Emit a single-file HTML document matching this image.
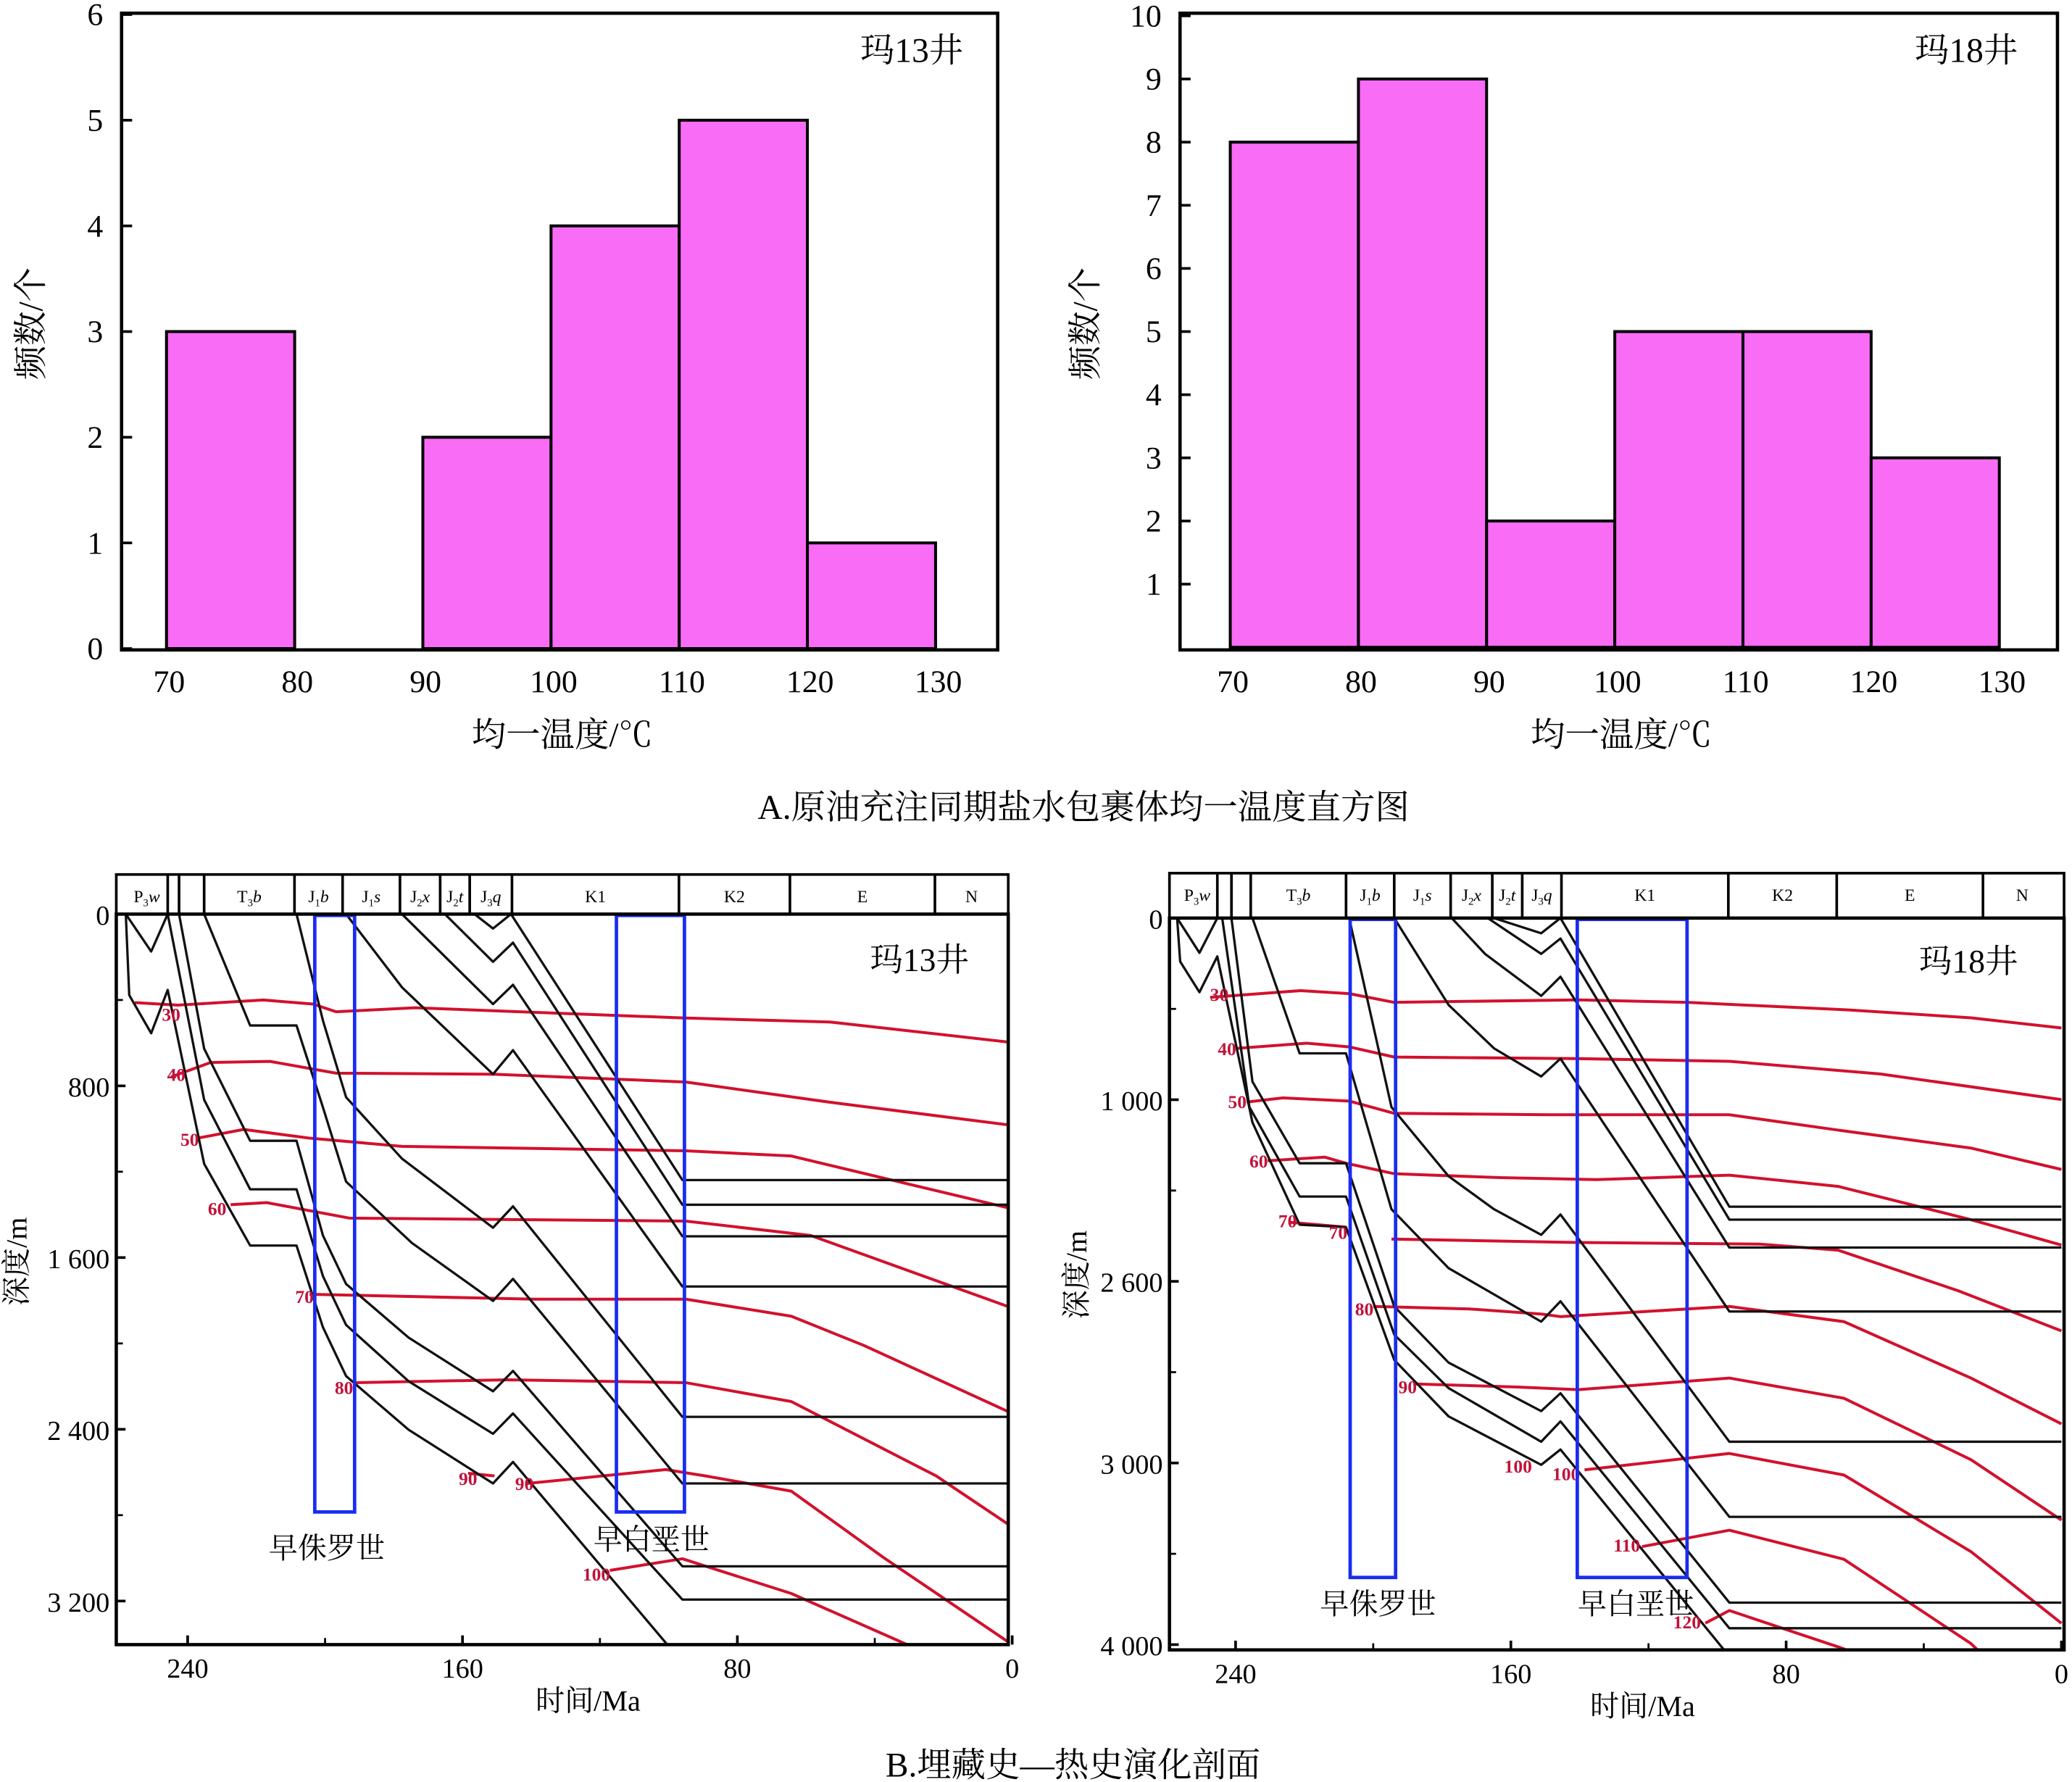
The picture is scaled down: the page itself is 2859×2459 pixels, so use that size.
<!DOCTYPE html>
<html><head><meta charset="utf-8"><style>
html,body{margin:0;padding:0;background:#fff;}
svg{display:block;}
text{font-family:"Liberation Serif","Noto Serif CJK SC",serif;fill:#000;}
</style></head><body>
<svg id="fig" xmlns="http://www.w3.org/2000/svg" width="2859" height="2459" viewBox="0 0 1568 1349" preserveAspectRatio="none">
<defs>
<clipPath id="clipL"><rect x="88" y="692" width="675" height="553"/></clipPath>
<clipPath id="clipR"><rect x="885" y="695" width="677" height="554"/></clipPath>
</defs>
<text x="820" y="620" font-size="26" text-anchor="middle">A.原油充注同期盐水包裹体均一温度直方图</text>
<text x="812" y="1345" font-size="26" text-anchor="middle">B.埋藏史—热史演化剖面</text>
</svg>
<script>
// ===== Histogram data =====
const histBins = [70, 80, 90, 100, 110, 120];
const histLeftCounts = [3, 0, 2, 4, 5, 1];
const histRightCounts = [8, 9, 2, 5, 5, 3];
const histXTicks = [70, 80, 90, 100, 110, 120, 130];
const histLeftYTicks = [0, 1, 2, 3, 4, 5, 6];
const histRightYTicks = [1, 2, 3, 4, 5, 6, 7, 8, 9, 10];

// ===== Burial chart: left (玛13井) =====
const burLXTicks = [240, 160, 80, 0];
const burLYTicks = [0, 800, 1600, 2400, 3200];
const burLYTickLabels = ["0", "800", "1 600", "2 400", "3 200"];
const burLHeaderBounds = [258, 245.8, 242.5, 235.2, 208.9, 194.9, 178.2, 166.5, 157.9, 145.6, 97, 64.7, 22.5, 0];
const burLBlack = [
 [[258,0],[250.6,174],[245.8,0]],
 [[156.5,0],[151.1,67],[145.9,0],[96,1239],[0,1239]],
 [[165.1,0],[151.1,222],[145.3,133],[96,1354],[0,1354]],
 [[177.6,0],[151.1,419],[145.3,329],[96,1501],[0,1501]],
 [[193.9,0],[177.6,341],[151.1,746],[145.3,634],[96,1735],[0,1735]],
 [[208.3,0],[200.6,496],[193.9,853],[177.6,1139],[151.1,1461],[145.3,1361],[96,2342],[0,2342]],
 [[235.2,0],[221.8,519],[208.3,519],[200.6,900],[193.9,1246],[174.7,1532],[151.1,1802],[145.3,1699],[96,2652],[0,2652]],
 [[242.5,0],[235.2,627],[221.8,1056],[208.3,1056],[200.6,1497],[193.9,1723],[175.7,1973],[151.1,2223],[145.3,2128],[96,3038],[0,3038]],
 [[245.8,0],[235.2,865],[221.8,1282],[208.3,1282],[200.6,1687],[193.9,1914],[175.7,2176],[151.1,2421],[145.3,2326],[96,3193],[0,3193]],
 [[258,0],[257,377],[250.6,555],[245.8,353],[235.2,1163],[221.8,1544],[208.3,1544],[200.6,1925],[193.9,2152],[175.7,2402],[151.1,2652],[145.3,2552],[90,3600]]
];
const burLRed = [
 [[255.4,412],[242.9,424],[218,400],[203.5,419],[196.8,455],[173.8,436],[96,484],[52.8,503],[0,598]],
 [[244.8,758],[233.3,691],[216,686],[196.8,741],[150.7,746],[95,782],[52.8,877],[0,984]],
 [[237.1,1044],[223.7,1003],[204.5,1044],[177.6,1082],[95,1103],[64.3,1127],[0,1373]],
 [[227.5,1354],[217,1344],[193,1416],[95,1430],[58.6,1497],[0,1835]],
 [[204.5,1771],[139.2,1794],[95,1794],[64.3,1873],[43.2,2009],[0,2326]],
 [[191,2183],[146.9,2169],[95,2183],[64.3,2271],[22.1,2617],[0,2855]],
 [[158.4,2605],[150.7,2617]],
 [[141.1,2652],[100.8,2588],[89.3,2617],[64.3,2688],[37.4,2998],[0,3403]],
 [[117.1,3057],[96,3003],[64.3,3165],[22.1,3463]]
];
const burLRedLabels = ["30","40","50","60","70","80","90","90","100"];
const burLRedLabelPos = [[244.8,496],[243.3,777],[239.4,1079],[231.4,1401],[206,1811],[194.5,2235],[158.4,2659],[142,2683],[121,3105]];

// ===== Burial chart: right (玛18井) =====
const burRXTicks = [240, 160, 80, 0];
const burRYTicks = [0, 1000, 2000, 3000, 4000];
const burRYTickLabels = ["0", "1 000", "2 600", "3 000", "4 000"];
const burRHeaderBounds = [257, 245.3, 241.2, 235.6, 207.9, 193.9, 177.5, 165.4, 156.7, 145.3, 96.8, 65.3, 22.8, 0];
const burRBlack = [
 [[257,0],[250.5,191],[245.3,0]],
 [[164.9,0],[151.2,84],[145.6,0],[96.5,1589],[0,1589]],
 [[166.7,0],[151.2,197],[145.6,113],[96.5,1660],[0,1660]],
 [[177.2,0],[167.5,197],[151.2,428],[145.6,323],[96.5,1814],[0,1814]],
 [[193.9,0],[178.1,478],[164.9,717],[151.2,872],[145.6,774],[96.5,2166],[0,2166]],
 [[207,0],[194.7,1041],[178.1,1421],[164.9,1603],[151.2,1744],[145.6,1632],[96.5,2883],[0,2883]],
 [[235.1,0],[221.4,745],[207.9,745],[194.7,1603],[178.1,1927],[151.2,2222],[145.6,2110],[96.5,3297],[0,3297]],
 [[241.2,0],[235.1,900],[221.4,1350],[207.9,1350],[193.9,2138],[178.1,2447],[151.2,2714],[145.6,2616],[96.5,3769],[0,3769]],
 [[243.9,0],[236,1041],[221.4,1533],[207.9,1533],[193.9,2293],[178.1,2588],[151.2,2883],[145.6,2771],[96.5,3910],[0,3910]],
 [[257,0],[256.1,239],[250.5,408],[245.3,211],[235.1,1125],[221.4,1688],[207.9,1702],[193.9,2433],[178.1,2743],[151.2,3010],[145.6,2926],[96.5,4065]]
];
const burRRed = [
 [[247.4,436],[221.1,399],[207,416],[193.9,464],[140.4,450],[108.8,464],[61.4,506],[26.3,549],[0,605]],
 [[239.5,717],[219.3,689],[207,709],[193.9,765],[140.4,774],[96.5,788],[52.6,858],[0,999]],
 [[236.8,1013],[226.3,990],[207,1007],[193.9,1075],[149.1,1083],[96.5,1083],[64.9,1167],[26.3,1266],[0,1384]],
 [[230.7,1336],[214,1316],[207.9,1350],[193.9,1407],[163.2,1429],[135.1,1440],[96.5,1415],[64.9,1477],[26.3,1660],[0,1800]],
 [[224.6,1674],[207.9,1702]],
 [[194.7,1767],[140.4,1786],[87.7,1795],[64.9,1828],[29.8,2053],[0,2273]],
 [[200,2138],[171.9,2152],[150.9,2180],[145.6,2194],[96.5,2138],[63.2,2222],[26.3,2532],[0,2785]],
 [[187.7,2565],[157.9,2582],[140.4,2596],[96.5,2532],[63.2,2644],[26.3,2982],[0,3314]],
 [[138.6,3038],[96.5,2948],[63.2,3066],[26.3,3488],[0,3882]],
 [[121.9,3460],[96.5,3370],[63.2,3530],[26.3,3994],[15,4200]],
 [[103.5,3882],[96.5,3812],[63.2,4023],[50,4200]]
];
const burRRedLabels = ["30","40","50","60","70","70","80","90","100","100","110","120"];
const burRRedLabelPos = [[244.7,456],[242.5,754],[239.5,1046],[233.3,1373],[224.9,1702],[210.2,1767],[202.6,2186],[190,2616],[157.9,3052],[143.9,3094],[126.3,3488],[108.8,3910]];

const NS = "http://www.w3.org/2000/svg";
const svg = document.getElementById("fig");
function mk(tag, attrs, parent) {
  const e = document.createElementNS(NS, tag);
  for (const k in attrs) e.setAttribute(k, attrs[k]);
  (parent || svg).appendChild(e);
  return e;
}
function txt(s, attrs, parent) { const e = mk("text", attrs, parent); e.textContent = s; return e; }

// ---------- Histograms ----------
function histogram(cfg) {
  const g = mk("g", {});
  
  
  const xs = v => cfg.x0 + (v - 70) * cfg.kx;
  const ys = v => cfg.yb - v * cfg.ky;
  cfg.counts.forEach((c, i) => {
    if (c <= 0) return;
    const r = mk("rect", {x: xs(histBins[i]), y: ys(c), width: xs(histBins[i] + 10) - xs(histBins[i]), height: ys(0) - ys(c), fill: "#f86cf6", stroke: "#000", "stroke-width": 2.2}, g);
    
    
  });
  const f = mk("rect", {x: cfg.bx, y: cfg.by, width: cfg.bw, height: cfg.bh, fill: "none", stroke: "#000", "stroke-width": 2.5}, g);
  
  
  cfg.yticks.forEach(v => {
    mk("line", {x1: cfg.bx, x2: cfg.bx + 8, y1: ys(v), y2: ys(v), stroke: "#000", "stroke-width": 2}, g);
    const t = txt(String(v), {x: cfg.bx - 14, y: ys(v) + 8, "font-size": 24, "text-anchor": "end"}, g);
    
    
  });
  histXTicks.forEach(v => {
    mk("line", {x1: xs(v), x2: xs(v), y1: cfg.by + cfg.bh, y2: cfg.by + cfg.bh - 8, stroke: "#000", "stroke-width": 2}, g);
    const t = txt(String(v), {x: xs(v) + 2, y: 524, "font-size": 24, "text-anchor": "middle"}, g);
    
    
  });
  const xt = txt("均一温度/℃", {x: cfg.bx + cfg.bw / 2 + 2, y: 565, "font-size": 26, "text-anchor": "middle"}, g);
  
  
  const yt = txt("频数/个", {x: 0, y: 0, "font-size": 26, "text-anchor": "middle", transform: `translate(${cfg.ylx},245) rotate(-90)`}, g);
  
  
  const wl = txt(cfg.well, {x: cfg.wx, y: 47, "font-size": 26, "text-anchor": "middle"}, g);
  
  
}
histogram({name: "histogram-ma13", counts: histLeftCounts, yticks: histLeftYTicks, x0: 126, kx: 9.7, yb: 491, ky: 80, bx: 92, by: 10, bw: 663, bh: 482, ylx: 32, well: "玛13井", wx: 690});
histogram({name: "histogram-ma18", counts: histRightCounts, yticks: histRightYTicks, x0: 931, kx: 9.7, yb: 490, ky: 47.8, bx: 893, by: 10, bw: 664, bh: 482, ylx: 830, well: "玛18井", wx: 1488});

// ---------- Burial charts ----------
const headerNames = [["P","3","w"],["","",""],["","",""],["T","3","b"],["J","1","b"],["J","1","s"],["J","2","x"],["J","2","t"],["J","3","q"],["K1","",""],["K2","",""],["E","",""],["N","",""]];
function burial(cfg) {
  const g = mk("g", {});
  
  
  const xs = t => cfg.xz - t * cfg.kx;
  const ys = d => cfg.y0 + d * cfg.ky;
  const pts = arr => arr.map(p => xs(p[0]).toFixed(1) + "," + ys(p[1]).toFixed(1)).join(" ");
  const hg = mk("g", {}, g);
  
  
  mk("rect", {x: cfg.px, y: cfg.hy, width: cfg.pw, height: cfg.y0 - cfg.hy, fill: "none", stroke: "#000", "stroke-width": 2}, hg);
  for (let i = 0; i < cfg.hb.length - 1; i++) {
    const a = Math.max(xs(cfg.hb[i]), cfg.px), b = Math.min(xs(cfg.hb[i + 1]), cfg.px + cfg.pw);
    if (i > 0) mk("line", {x1: a, x2: a, y1: cfg.hy, y2: cfg.y0, stroke: "#000", "stroke-width": 2}, hg);
    const n = headerNames[i];
    if (n[0]) {
      const t = mk("text", {x: (a + b) / 2, y: cfg.hy + 21, "font-size": 13, "text-anchor": "middle"}, hg);
      
      
      const s1 = mk("tspan", {}, t); s1.textContent = n[0];
      if (n[1]) { const s2 = mk("tspan", {"font-size": 8, dy: 3}, t); s2.textContent = n[1]; const s3 = mk("tspan", {"font-style": "italic", dy: -3}, t); s3.textContent = n[2]; }
    }
  }
  const pg = mk("g", {"clip-path": `url(#${cfg.clip})`}, g);
  cfg.red.forEach(l => {
    const p = mk("polyline", {points: pts(l), fill: "none", stroke: "#d2112d", "stroke-width": 2.2, "stroke-linejoin": "round"}, pg);
    
    
  });
  cfg.black.forEach(l => {
    const p = mk("polyline", {points: pts(l), fill: "none", stroke: "#111", "stroke-width": 1.8, "stroke-linejoin": "round"}, pg);
    
    
  });
  cfg.rl.forEach((s, i) => {
    const p = cfg.rlp[i];
    const t = txt(s, {x: xs(p[0]), y: ys(p[1]), "font-size": 14, "font-weight": "bold", "text-anchor": "middle", style: "fill:#c0123a"}, g);
    
    
  });
  cfg.boxes.forEach(bx => {
    const r = mk("rect", {x: xs(bx[0]), y: cfg.y0 + 1, width: xs(bx[1]) - xs(bx[0]), height: ys(bx[2]) - cfg.y0, fill: "none", stroke: "#1a2cf0", "stroke-width": 2.6}, g);
    
    
  });
  cfg.notes.forEach(nt => {
    const t = txt(nt[0], {x: xs(nt[1]), y: ys(nt[2]), "font-size": 22, "text-anchor": "middle"}, g);
    
    
  });
  const wl = txt(cfg.well, {x: xs(cfg.wp[0]), y: ys(cfg.wp[1]), "font-size": 25, "text-anchor": "middle"}, g);
  
  
  const fr = mk("rect", {x: cfg.px, y: cfg.y0, width: cfg.pw, height: cfg.ph, fill: "none", stroke: "#000", "stroke-width": 2.5}, g);
  
  
  const yb = cfg.y0 + cfg.ph;
  cfg.xt.forEach(v => {
    mk("line", {x1: xs(v), x2: xs(v), y1: yb, y2: yb - 7, stroke: "#000", "stroke-width": 2}, g);
    const t = txt(String(v), {x: xs(v), y: yb + 25, "font-size": 21, "text-anchor": "middle"}, g);
    
    
  });
  cfg.xm.forEach(v => mk("line", {x1: xs(v), x2: xs(v), y1: yb, y2: yb - 5, stroke: "#000", "stroke-width": 1.5}, g));
  cfg.yt.forEach((v, i) => {
    mk("line", {x1: cfg.px, x2: cfg.px + 7, y1: ys(v), y2: ys(v), stroke: "#000", "stroke-width": 2}, g);
    const t = txt(cfg.ytl[i], {x: cfg.px - 5, y: ys(v) + 8, "font-size": 21, "text-anchor": "end"}, g);
    
    
  });
  cfg.ym.forEach(v => mk("line", {x1: cfg.px, x2: cfg.px + 5, y1: ys(v), y2: ys(v), stroke: "#000", "stroke-width": 1.5}, g));
  const xtt = txt("时间/Ma", {x: cfg.xtx, y: yb + 50, "font-size": 22, "text-anchor": "middle"}, g);
  
  
  const ytt = txt("深度/m", {x: 0, y: 0, "font-size": 22, "text-anchor": "middle", transform: `translate(${cfg.ytx},${cfg.yty}) rotate(-90)`}, g);
  
  
}
burial({name: "burial-chart-ma13", clip: "clipL", xz: 766, kx: 2.6, y0: 692, ky: 0.1625, px: 88, pw: 675, ph: 553, hy: 662,
  hb: burLHeaderBounds, red: burLRed, black: burLBlack, rl: burLRedLabels, rlp: burLRedLabelPos,
  boxes: [[203, 191.4, 2779], [115.2, 95.4, 2779]],
  notes: [["早侏罗世", 199.5, 3000], ["早白垩世", 105, 2960]],
  well: "玛13井", wp: [27, 265], xt: burLXTicks, xm: [200, 120, 40], yt: burLYTicks, ytl: burLYTickLabels,
  ym: [400, 1200, 2000, 2800], xtx: 445, ytx: 20, yty: 955});
burial({name: "burial-chart-ma18", clip: "clipR", xz: 1560, kx: 2.604, y0: 695, ky: 0.1375, px: 885, pw: 677, ph: 554, hy: 661,
  hb: burRHeaderBounds, red: burRRed, black: burRBlack, rl: burRRedLabels, rlp: burRRedLabelPos,
  boxes: [[206.7, 193.5, 3623], [140.7, 108.8, 3623]],
  notes: [["早侏罗世", 198.6, 3830], ["早白垩世", 123.7, 3830]],
  well: "玛18井", wp: [27, 300], xt: burRXTicks, xm: [200, 120, 40], yt: burRYTicks, ytl: burRYTickLabels,
  ym: [500, 1500, 2500, 3500], xtx: 1243, ytx: 822, yty: 965});
</script>
</body></html>
